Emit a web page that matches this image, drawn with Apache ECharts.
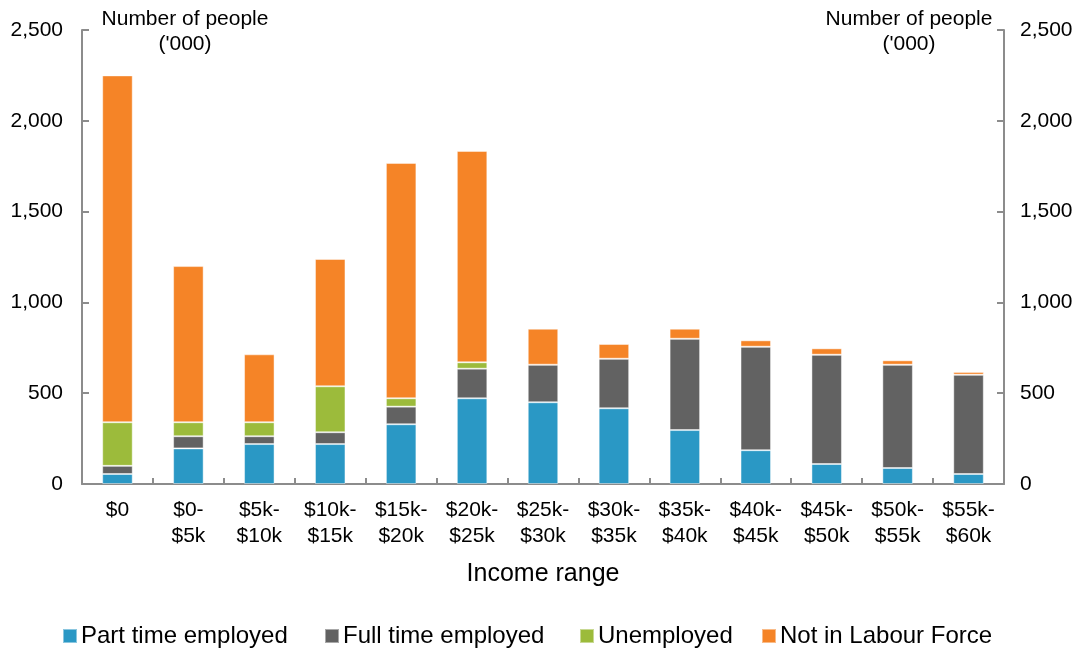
<!DOCTYPE html>
<html>
<head>
<meta charset="utf-8">
<script src="https://cdn.jsdelivr.net/npm/echarts@6/dist/echarts.min.js"></script>
<style>
  html, body { margin: 0; padding: 0; background: #fff; }
  #chart { width: 1083px; height: 649px; }
</style>
</head>
<body>
<div id="chart"></div>
<script>
// Income ranges along the horizontal axis
const categories = ['$0', '$0-\n$5k', '$5k-\n$10k', '$10k-\n$15k', '$15k-\n$20k', '$20k-\n$25k',
  '$25k-\n$30k', '$30k-\n$35k', '$35k-\n$40k', '$40k-\n$45k', '$45k-\n$50k', '$50k-\n$55k', '$55k-\n$60k'];

// Number of people ('000) in each labour force group
const partTime    = [55, 196, 220, 220, 329, 472, 450, 417, 297, 186, 110, 88, 55];
const fullTime    = [45, 67, 43, 65, 97, 163, 207, 273, 503, 570, 602, 569, 547];
const unemployed  = [240, 77, 77, 253, 46, 35, 0, 0, 0, 0, 0, 0, 0];
const notInLabour = [1910, 860, 374, 701, 1296, 1164, 198, 81, 55, 35, 35, 24, 15];

const seriesNames = ['Part time employed', 'Full time employed', 'Unemployed', 'Not in Labour Force'];
const seriesColors = ['#2a98c5', '#626262', '#9cbb3b', '#f58427'];

const yTicks = { min: 0, max: 2500, interval: 500 };
const axisTitle = "Number of people\n('000)";

const font = 'Liberation Sans, Arial, sans-serif';
const axisGrey = '#8c8c8c';

const chart = echarts.init(document.getElementById('chart'));

function yAxis(position, margin) {
  return {
    type: 'value',
    position: position,
    min: yTicks.min, max: yTicks.max, interval: yTicks.interval,
    axisLine: { show: true, lineStyle: { color: axisGrey, width: 2 } },
    axisTick: { show: true, inside: true, length: 7, lineStyle: { color: axisGrey, width: 2 } },
    splitLine: { show: false },
    axisLabel: {
      color: '#000', fontSize: 21, fontFamily: font, margin: margin,
      formatter: v => v.toLocaleString('en-US')
    }
  };
}

function barSeries(i, data) {
  return {
    name: seriesNames[i], type: 'bar', stack: 'total', data: data,
    barWidth: '43%',
    itemStyle: { color: seriesColors[i], borderColor: 'rgba(255,255,255,0.45)', borderWidth: 1 },
    emphasis: { disabled: true }
  };
}

// one legend block per series so the entries sit spread along the bottom
const legendLefts = [57, 319, 574, 756];
const legends = seriesNames.map((n, i) => ({
  left: legendLefts[i],
  top: 619,
  icon: 'rect',
  itemWidth: 14, itemHeight: 14,
  textStyle: { color: '#000', fontSize: 24, fontFamily: font, padding: [0, 0, 0, -1] },
  data: [n]
}));

function titleText(cx) {
  return {
    type: 'text', x: cx, y: 7,
    style: { text: axisTitle, align: 'center', verticalAlign: 'top', fontSize: 21, lineHeight: 25, fill: '#000', fontFamily: font }
  };
}

chart.setOption({
  animation: false,
  textStyle: { fontFamily: font },
  grid: { left: 82, right: 79, top: 30, bottom: 165 },
  xAxis: {
    type: 'category',
    data: categories,
    name: 'Income range',
    nameLocation: 'middle',
    nameGap: 78,
    nameTextStyle: { color: '#000', fontSize: 25, fontFamily: font },
    axisLine: { lineStyle: { color: axisGrey, width: 2 } },
    axisTick: { show: true, inside: true, length: 6, lineStyle: { color: axisGrey, width: 2 } },
    axisLabel: { color: '#000', fontSize: 21, fontFamily: font, lineHeight: 26, margin: 13, interval: 0 }
  },
  yAxis: [yAxis('left', 19), yAxis('right', 16)],
  legend: legends,
  graphic: [titleText(185), titleText(909)],
  series: [
    barSeries(0, partTime),
    barSeries(1, fullTime),
    barSeries(2, unemployed),
    barSeries(3, notInLabour)
  ]
});
</script>
</body>
</html>
